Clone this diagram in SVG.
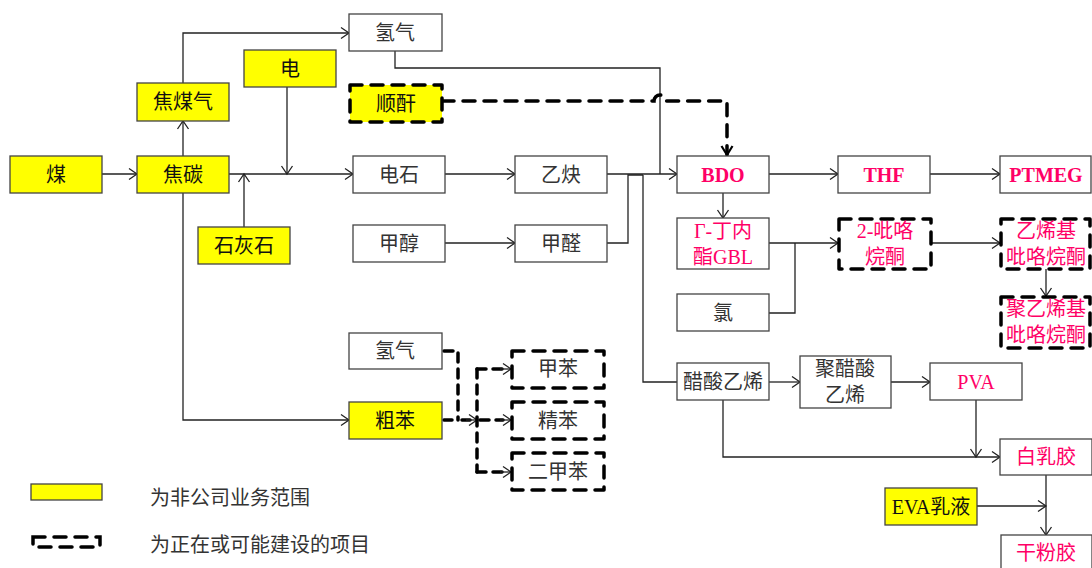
<svg xmlns="http://www.w3.org/2000/svg" width="1092" height="568" viewBox="0 0 1092 568">
<defs>
<marker id="ar" markerUnits="userSpaceOnUse" markerWidth="12" markerHeight="14" refX="9" refY="6" orient="auto" viewBox="0 0 12 12"><path d="M1,0.5 L9,6 L1,11.5" fill="none" stroke="#222" stroke-width="1.3"/></marker>
<marker id="arb" markerUnits="userSpaceOnUse" markerWidth="14" markerHeight="14" refX="10" refY="6" orient="auto" viewBox="0 0 14 12"><path d="M1,0.5 L10,6 L1,11.5" fill="none" stroke="#000" stroke-width="2.2"/></marker>
<style>
.b{fill:#fff;stroke:#444;stroke-width:1.3}
.y{fill:#ffff00;stroke:#444;stroke-width:1.3}
.d{fill:#fff;stroke:#000;stroke-width:3.5;stroke-dasharray:12 9;stroke-linecap:round;stroke-linejoin:round}
.dy{fill:#ffff00;stroke:#000;stroke-width:3.5;stroke-dasharray:12 9;stroke-linecap:round;stroke-linejoin:round}
text{font-family:"Liberation Serif","Noto Sans CJK SC",serif;font-size:20px;text-anchor:middle;dominant-baseline:central;fill:#333}
.k{fill:#111}
.p{fill:#ff0066}
.pb{fill:#ff0066;font-weight:bold}
.c{fill:none;stroke:#222;stroke-width:1.3}
.cd{fill:none;stroke:#000;stroke-width:3.5;stroke-dasharray:12 9;stroke-linecap:round}
.cs{fill:none;stroke:#000;stroke-width:3.5;stroke-dasharray:9 7;stroke-linecap:round}
.lg{text-anchor:start;font-size:20px}
</style>
</defs>
<g id="connectors">
<path class="c" d="M102,174 H137" marker-end="url(#ar)"/>
<path class="c" d="M183,156 V121" marker-end="url(#ar)"/>
<path class="c" d="M183,83 V33 H349" marker-end="url(#ar)"/>
<path class="c" d="M229,174 H353" marker-end="url(#ar)"/>
<path class="c" d="M287,87 V174" marker-end="url(#ar)"/>
<path class="c" d="M244,227 V174" marker-end="url(#ar)"/>
<path class="c" d="M183,193 V420 H349" marker-end="url(#ar)"/>
<path class="c" d="M445,174 H515" marker-end="url(#ar)"/>
<path class="c" d="M445,243 H515" marker-end="url(#ar)"/>
<path class="c" d="M607,174 H677" marker-end="url(#ar)"/>
<path class="c" d="M607,243 H628 V175 H643"/>
<path class="c" d="M643,175 V382 H677"/>
<path class="c" d="M395,51 V68 H660 V174"/>
<path class="cd" d="M442,101 H654 A6,6 0 0 1 666,101 H727 V155" marker-end="url(#arb)"/>
<path class="c" d="M769,174 H838" marker-end="url(#ar)"/>
<path class="c" d="M930,174 H1000" marker-end="url(#ar)"/>
<path class="c" d="M723,193 V218" marker-end="url(#ar)"/>
<path class="c" d="M769,243 H838" marker-end="url(#ar)"/>
<path class="c" d="M769,313 H795 V243"/>
<path class="c" d="M932,243 H1000" marker-end="url(#ar)"/>
<path class="c" d="M1046,269 V296" marker-end="url(#ar)"/>
<path class="c" d="M769,382 H800" marker-end="url(#ar)"/>
<path class="c" d="M891,382 H930" marker-end="url(#ar)"/>
<path class="c" d="M976,400 V457" marker-end="url(#ar)"/>
<path class="c" d="M723,400 V457 H1000" marker-end="url(#ar)"/>
<path class="c" d="M1046,475 V535" marker-end="url(#ar)"/>
<path class="c" d="M977,506 H1046" marker-end="url(#ar)"/>
<path class="cs" d="M444,351 H458 V420"/>
<path class="cs" d="M444,420 H452 M462,420 H470"/>
<path class="c" d="M466,420 H477" marker-end="url(#ar)"/>
<path class="cs" d="M477,369 V472"/>
<path class="cs" d="M477,369 H503"/>
<path class="c" d="M500,369 H511" marker-end="url(#ar)"/>
<path class="cs" d="M480,420 H503"/>
<path class="c" d="M500,420 H511" marker-end="url(#ar)"/>
<path class="cs" d="M477,472 H503"/>
<path class="c" d="M500,472 H511" marker-end="url(#ar)"/>
</g>
<g id="n-mei"><rect class="y" x="10" y="156" width="92" height="37"/><text class="k" x="56" y="175">煤</text></g>
<g id="n-jiaotan"><rect class="y" x="137" y="156" width="92" height="37"/><text class="k" x="183" y="175">焦碳</text></g>
<g id="n-jiaomeiqi"><rect class="y" x="137" y="83" width="92" height="38"/><text class="k" x="183" y="102">焦煤气</text></g>
<g id="n-dian"><rect class="y" x="244" y="50" width="92" height="37"/><text class="k" x="290" y="69">电</text></g>
<g id="n-shihuishi"><rect class="y" x="198" y="227" width="92" height="37"/><text class="k" x="244" y="246">石灰石</text></g>
<g id="n-qingqi1"><rect class="b" x="349" y="14" width="93" height="37"/><text x="395" y="33">氢气</text></g>
<g id="n-shungan"><rect class="dy" x="350" y="85" width="92" height="37"/><text class="k" x="396" y="104">顺酐</text></g>
<g id="n-dianshi"><rect class="b" x="353" y="156" width="92" height="37"/><text x="399" y="175">电石</text></g>
<g id="n-yique"><rect class="b" x="515" y="156" width="92" height="37"/><text x="561" y="175">乙炔</text></g>
<g id="n-jiachun"><rect class="b" x="353" y="225" width="92" height="37"/><text x="399" y="244">甲醇</text></g>
<g id="n-jiaquan"><rect class="b" x="515" y="225" width="92" height="37"/><text x="561" y="244">甲醛</text></g>
<g id="n-bdo"><rect class="b" x="677" y="156" width="92" height="37"/><text class="pb" x="723" y="175">BDO</text></g>
<g id="n-thf"><rect class="b" x="838" y="156" width="92" height="37"/><text class="pb" x="884" y="175">THF</text></g>
<g id="n-ptmeg"><rect class="b" x="1000" y="156" width="91" height="37"/><text class="pb" x="1046" y="175">PTMEG</text></g>
<g id="n-gbl"><rect class="b" x="677" y="218" width="92" height="51"/><text class="p" x="723" y="231">Γ-丁内</text><text class="p" x="723" y="257">酯GBL</text></g>
<g id="n-lv"><rect class="b" x="677" y="294" width="92" height="37"/><text x="723" y="313">氯</text></g>
<g id="n-2pyr"><rect class="d" x="839" y="219" width="92" height="50"/><text class="p" x="885" y="231">2-吡咯</text><text class="p" x="885" y="257">烷酮</text></g>
<g id="n-vpyr"><rect class="d" x="1001" y="219" width="89" height="50"/><text class="p" x="1046" y="231">乙烯基</text><text class="p" x="1046" y="257">吡咯烷酮</text></g>
<g id="n-pvp"><rect class="d" x="1001" y="297" width="89" height="51"/><text class="p" x="1046" y="309">聚乙烯基</text><text class="p" x="1046" y="335">吡咯烷酮</text></g>
<g id="n-qingqi2"><rect class="b" x="349" y="333" width="93" height="36"/><text x="395" y="351">氢气</text></g>
<g id="n-cuben"><rect class="y" x="349" y="402" width="93" height="37"/><text class="k" x="395" y="421">粗苯</text></g>
<g id="n-jiaben"><rect class="d" x="512" y="351" width="92" height="37"/><text x="558" y="369">甲苯</text></g>
<g id="n-jingben"><rect class="d" x="512" y="402" width="92" height="37"/><text x="558" y="421">精苯</text></g>
<g id="n-erjiaben"><rect class="d" x="512" y="453" width="92" height="37"/><text x="558" y="472">二甲苯</text></g>
<g id="n-cusuanyixi"><rect class="b" x="677" y="363" width="92" height="37"/><text x="723" y="382">醋酸乙烯</text></g>
<g id="n-jucusuan"><rect class="b" x="800" y="356" width="91" height="52"/><text x="845" y="369">聚醋酸</text><text x="845" y="395">乙烯</text></g>
<g id="n-pva"><rect class="b" x="930" y="363" width="92" height="37"/><text class="p" x="976" y="382">PVA</text></g>
<g id="n-bairujiao"><rect class="b" x="1000" y="439" width="92" height="36"/><text class="p" x="1046" y="457">白乳胶</text></g>
<g id="n-eva"><rect class="y" x="885" y="488" width="92" height="37"/><text class="k" x="931" y="507">EVA乳液</text></g>
<g id="n-ganfenjiao"><rect class="b" x="1001" y="535" width="91" height="40"/><text class="p" x="1046" y="553">干粉胶</text></g>
<g id="legend">
<rect class="y" x="31" y="484" width="71" height="16"/>
<text class="lg" x="150" y="498">为非公司业务范围</text>
<rect x="33" y="537" width="67" height="10" fill="none" stroke="#000" stroke-width="3.5" stroke-dasharray="12 9" stroke-linecap="round"/>
<text class="lg" x="150" y="545">为正在或可能建设的项目</text>
</g>
</svg>
